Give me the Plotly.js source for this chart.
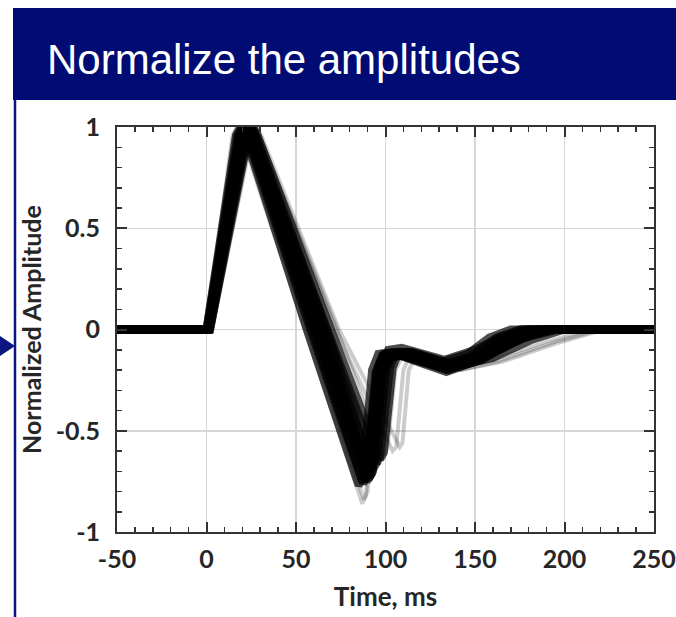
<!DOCTYPE html>
<html>
<head>
<meta charset="utf-8">
<script src="https://cdn.plot.ly/plotly-3.0.1.min.js"></script>
<style>
  html, body { margin: 0; padding: 0; background: #ffffff; }
  #chart { width: 676px; height: 617px; }
</style>
</head>
<body>
<div id="chart"></div>
<script>
// Normalized waveforms: each recording is peak-scaled to 1 and overlaid.
// Time (ms) and amplitude breakpoints for every recording.
const tA = [-50, 0, 16.5, 19, 21.5, 56, 85, 87, 92.5, 96, 104, 128, 146, 158, 170, 250];
const yA = [0, 0, 0.96, 1, 0.96, 0, -0.77, -0.74, -0.20, -0.12, -0.11, -0.17, -0.12, -0.04, 0, 0];

const tB = [-50, 0, 17.5, 20, 22.5, 58, 87, 89, 94.5, 98, 106, 130, 148, 162, 175, 250];
const yB = [0, 0, 0.96, 1, 0.96, 0, -0.75, -0.72, -0.21, -0.13, -0.12, -0.18, -0.13, -0.04, 0, 0];

const tC = [-50, 0.5, 18.5, 21, 23.5, 60, 88, 90, 95.5, 99, 107, 132, 150, 165, 178, 250];
const yC = [0, 0, 0.96, 1, 0.96, 0, -0.74, -0.71, -0.20, -0.12, -0.11, -0.19, -0.14, -0.05, 0, 0];

const tD = [-50, 1, 19.5, 22, 24.5, 62, 89, 91, 96.5, 100, 108, 133, 151, 168, 182, 250];
const yD = [0, 0, 0.96, 1, 0.96, 0, -0.72, -0.69, -0.20, -0.12, -0.11, -0.18, -0.13, -0.04, 0, 0];

const tE = [-50, 1, 20, 22.5, 25, 63, 90, 92, 97.5, 101, 109, 134, 152, 170, 185, 250];
const yE = [0, 0, 0.96, 1, 0.96, 0, -0.71, -0.68, -0.21, -0.13, -0.12, -0.20, -0.14, -0.05, 0, 0];

const tF = [-50, 1, 20.5, 23, 25.5, 64, 91, 93, 98.5, 102, 110, 135, 153, 172, 188, 250];
const yF = [0, 0, 0.96, 1, 0.96, 0, -0.73, -0.70, -0.20, -0.12, -0.11, -0.18, -0.13, -0.04, 0, 0];

const tG = [-50, 1.5, 21.5, 24, 26.5, 66, 92, 94, 99.5, 103, 111, 136, 155, 175, 192, 250];
const yG = [0, 0, 0.96, 1, 0.96, 0, -0.68, -0.65, -0.20, -0.13, -0.12, -0.19, -0.14, -0.05, 0, 0];

const tH = [-50, 2, 22.5, 25, 27.5, 68, 95, 97, 102.5, 105.5, 113, 138, 157, 178, 196, 250];
const yH = [0, 0, 0.96, 1, 0.96, 0, -0.66, -0.63, -0.19, -0.12, -0.11, -0.17, -0.13, -0.04, 0, 0];

const tI = [-50, 2, 23.5, 26, 28.5, 70, 97, 99, 104, 107, 115, 140, 160, 182, 200, 250];
const yI = [0, 0, 0.96, 1, 0.96, 0, -0.64, -0.61, -0.19, -0.12, -0.11, -0.18, -0.14, -0.05, 0, 0];

const tJ = [-50, 0.5, 19, 21.5, 24, 61, 89.5, 91.5, 97, 100.5, 108, 134, 153, 172, 190, 250];
const yJ = [0, 0, 0.96, 1, 0.96, 0, -0.75, -0.72, -0.22, -0.14, -0.13, -0.21, -0.15, -0.05, 0, 0];

const tK = [-50, 1, 20.5, 23, 25.5, 65, 91, 93, 98, 101.5, 109, 133, 150, 166, 180, 250];
const yK = [0, 0, 0.96, 1, 0.96, 0, -0.70, -0.67, -0.18, -0.10, -0.09, -0.15, -0.10, -0.03, 0, 0];

const tO = [-50, 0.5, 18, 20.5, 23, 59, 87.5, 89.5, 95, 98.5, 106, 131, 149, 163, 176, 250];
const yO = [0, 0, 0.96, 1, 0.96, 0, -0.76, -0.73, -0.21, -0.13, -0.12, -0.19, -0.14, -0.05, 0, 0];

const tP = [-50, 1.5, 22, 24.5, 27, 67, 93, 95, 100.5, 104, 112, 137, 156, 176, 194, 250];
const yP = [0, 0, 0.96, 1, 0.96, 0, -0.69, -0.66, -0.19, -0.12, -0.11, -0.18, -0.13, -0.04, 0, 0];

const tQ = [-50, 1, 19.5, 22, 24.5, 62.5, 90.5, 92.5, 98, 101.5, 109, 135, 154, 173, 190, 250];
const yQ = [0, 0, 0.96, 1, 0.96, 0, -0.74, -0.71, -0.22, -0.14, -0.13, -0.20, -0.15, -0.05, 0, 0];

// Faint outliers: early/deep troughs and late troughs.
const tL = [-50, 0, 14.5, 17, 19.5, 55, 87, 89, 94, 97.5, 105, 131, 150, 165, 180, 250];
const yL = [0, 0, 0.96, 1, 0.96, 0, -0.86, -0.82, -0.22, -0.13, -0.12, -0.18, -0.13, -0.04, 0, 0];

const tR = [-50, 0, 15.5, 18, 20.5, 57, 88, 90, 95.5, 99, 106, 132, 151, 166, 184, 250];
const yR = [0, 0, 0.96, 1, 0.96, 0, -0.84, -0.80, -0.22, -0.13, -0.12, -0.18, -0.13, -0.04, 0, 0];

const tM = [-50, 2.5, 24.5, 27, 29.5, 72, 104, 106, 110, 113, 119, 140, 160, 190, 215, 250];
const yM = [0, 0, 0.96, 1, 0.96, 0, -0.60, -0.58, -0.20, -0.14, -0.13, -0.19, -0.15, -0.06, 0, 0];

const tN = [-50, 3, 25.5, 28, 30.5, 74, 108, 109.5, 113, 116, 122, 142, 162, 195, 220, 250];
const yN = [0, 0, 0.96, 1, 0.96, 0, -0.58, -0.56, -0.20, -0.15, -0.14, -0.20, -0.16, -0.06, 0, 0];

const tS = [-50, 2, 24.5, 27, 29.5, 73, 99, 101, 105.5, 109, 117, 142, 165, 195, 222, 250];
const yS = [0, 0, 0.96, 1, 0.96, 0, -0.62, -0.59, -0.20, -0.14, -0.13, -0.20, -0.16, -0.07, 0, 0];

const coreWaves = [[tA, yA], [tB, yB], [tC, yC], [tD, yD], [tE, yE], [tF, yF], [tG, yG],
                   [tH, yH], [tI, yI], [tJ, yJ], [tK, yK], [tO, yO], [tP, yP], [tQ, yQ]];
const faintWaves = [[tL, yL], [tR, yR], [tM, yM], [tN, yN], [tS, yS]];

// Axis labels
const xTickVals = [-50, 0, 50, 100, 150, 200, 250];
const xTickText = ['-50', '0', '50', '100', '150', '200', '250'];
const yTickVals = [-1, -0.5, 0, 0.5, 1];
const yTickText = ['-1', '-0.5', '0', '0.5', '1'];

const headerText = 'Normalize the amplitudes';
const xTitle = 'Time, ms';
const yTitle = 'Normalized Amplitude';

const traces = [];
faintWaves.forEach(([t, y]) => traces.push({
  x: t, y: y, type: 'scatter', mode: 'lines', hoverinfo: 'skip',
  line: { color: 'rgba(0,0,0,0.2)', width: 4 }
}));
coreWaves.forEach(([t, y]) => traces.push({
  x: t, y: y, type: 'scatter', mode: 'lines', hoverinfo: 'skip',
  line: { color: 'rgba(0,0,0,0.7)', width: 8 }
}));

// Plot area spans 117..654 px horizontally, 127..532 px vertically.
const L = 117, R = 654, T = 127, B = 532;
const px = v => (v - L) / (R - L);
const py = v => (B - v) / (B - T);

const fontFamily = 'Lato, "Open Sans", sans-serif';
const tickFont = { family: fontFamily, size: 25, color: '#262626', weight: 700 };
const axisCommon = {
  showline: true, linecolor: '#333333', linewidth: 2, mirror: 'ticks',
  ticks: 'inside', ticklen: 10, tickwidth: 2, tickcolor: '#333333',
  showgrid: true, gridcolor: '#d6d6d6', gridwidth: 1.5, zeroline: false,
  tickmode: 'array', tickfont: tickFont, fixedrange: true
};

const layout = {
  width: 676, height: 617,
  paper_bgcolor: '#ffffff', plot_bgcolor: '#ffffff',
  showlegend: false,
  margin: { l: L, r: 676 - R, t: T, b: 617 - B, pad: 0 },
  xaxis: Object.assign({}, axisCommon, {
    range: [-50, 250], tickvals: xTickVals, ticktext: xTickText,
    ticklabelstandoff: 4,
    minor: { tickmode: 'linear', tick0: -50, dtick: 10, ticks: 'inside', ticklen: 5, tickwidth: 1.5, tickcolor: '#333333', showgrid: false },
    title: { text: xTitle, font: { family: fontFamily, size: 26, color: '#262626', weight: 700 }, standoff: 16 }
  }),
  yaxis: Object.assign({}, axisCommon, {
    range: [-1, 1], tickvals: yTickVals, ticktext: yTickText,
    ticklabelstandoff: 10,
    minor: { tickmode: 'linear', tick0: -1, dtick: 0.1, ticks: 'inside', ticklen: 5, tickwidth: 1.5, tickcolor: '#333333', showgrid: false },
    title: { text: yTitle, font: { family: fontFamily, size: 25, color: '#262626', weight: 700 }, standoff: 7 }
  }),
  shapes: [
    // header band
    { type: 'rect', xref: 'paper', yref: 'paper', x0: px(13), x1: px(676), y0: py(100), y1: py(8),
      fillcolor: '#000c73', line: { width: 0 }, layer: 'below' },
    // left rule
    { type: 'line', xref: 'paper', yref: 'paper', x0: px(15), x1: px(15), y0: py(100), y1: py(617),
      line: { color: '#0a1580', width: 2.5 } },
    // pointer
    { type: 'path', xref: 'paper', yref: 'paper',
      path: `M ${px(0)} ${py(336)} L ${px(15)} ${py(346)} L ${px(0)} ${py(356)} Z`,
      fillcolor: '#0a1580', line: { width: 0 } }
  ],
  annotations: [
    { text: headerText, xref: 'paper', yref: 'paper', x: px(45), y: py(59),
      xanchor: 'left', yanchor: 'middle', showarrow: false,
      font: { family: '"Liberation Sans", Arial, sans-serif', size: 42, color: '#ffffff' } }
  ]
};

Plotly.newPlot('chart', traces, layout, { staticPlot: true, displayModeBar: false });
</script>
</body>
</html>
